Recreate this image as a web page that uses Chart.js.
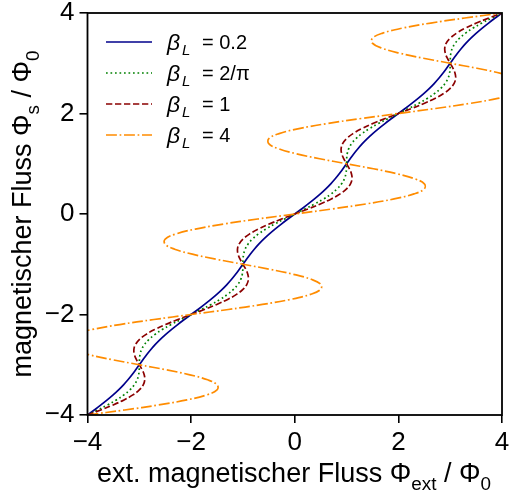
<!DOCTYPE html>
<html>
<head>
<meta charset="utf-8">
<script src="https://cdn.jsdelivr.net/npm/chart.js@4.4.1/dist/chart.umd.min.js"></script>
<style>
  html, body { margin: 0; padding: 0; background: #fff; }
  canvas { display: block; }
</style>
</head>
<body>
<canvas id="c" width="509" height="496"></canvas>
<script>
// Φs / Φ0 samples (vertical axis)
const fluxS = [-4,-3.9,-3.8,-3.7,-3.6,-3.5,-3.4,-3.3,-3.2,-3.1,-3,-2.9,-2.8,-2.7,-2.6,-2.5,-2.4,-2.3,-2.2,-2.1,
  -2,-1.9,-1.8,-1.7,-1.6,-1.5,-1.4,-1.3,-1.2,-1.1,-1,-0.9,-0.8,-0.7,-0.6,-0.5,-0.4,-0.3,-0.2,-0.1,
  0,0.1,0.2,0.3,0.4,0.5,0.6,0.7,0.8,0.9,1,1.1,1.2,1.3,1.4,1.5,1.6,1.7,1.8,1.9,
  2,2.1,2.2,2.3,2.4,2.5,2.6,2.7,2.8,2.9,3,3.1,3.2,3.3,3.4,3.5,3.6,3.7,3.8,3.9,4];

// Φext / Φ0 values for each β_L (horizontal axis)
const extBeta02 = [-4,-3.869,-3.741,-3.619,-3.505,-3.4,-3.305,-3.219,-3.141,-3.069,
  -3,-2.931,-2.859,-2.781,-2.695,-2.6,-2.495,-2.381,-2.259,-2.131,
  -2,-1.869,-1.741,-1.619,-1.505,-1.4,-1.305,-1.219,-1.141,-1.069,
  -1,-0.931,-0.859,-0.781,-0.695,-0.6,-0.495,-0.381,-0.259,-0.131,
  0,0.131,0.259,0.381,0.495,0.6,0.695,0.781,0.859,0.931,
  1,1.069,1.141,1.219,1.305,1.4,1.505,1.619,1.741,1.869,
  2,2.131,2.259,2.381,2.495,2.6,2.695,2.781,2.859,2.931,
  3,3.069,3.141,3.219,3.305,3.4,3.505,3.619,3.741,3.869,4];

const extBeta2pi = [-4,-3.802,-3.613,-3.442,-3.297,-3.182,-3.097,-3.042,-3.013,-3.002,
  -3,-2.998,-2.987,-2.958,-2.903,-2.818,-2.703,-2.558,-2.387,-2.198,
  -2,-1.802,-1.613,-1.442,-1.297,-1.182,-1.097,-1.042,-1.013,-1.002,
  -1,-0.998,-0.987,-0.958,-0.903,-0.818,-0.703,-0.558,-0.387,-0.198,
  0,0.198,0.387,0.558,0.703,0.818,0.903,0.958,0.987,0.998,
  1,1.002,1.013,1.042,1.097,1.182,1.297,1.442,1.613,1.802,
  2,2.198,2.387,2.558,2.703,2.818,2.903,2.958,2.987,2.998,
  3,3.002,3.013,3.042,3.097,3.182,3.297,3.442,3.613,3.802,4];

const extBeta1 = [-4,-3.745,-3.506,-3.295,-3.124,-3,-2.924,-2.895,-2.906,-2.945,
  -3,-3.055,-3.094,-3.105,-3.076,-3,-2.876,-2.705,-2.494,-2.255,
  -2,-1.745,-1.506,-1.295,-1.124,-1,-0.924,-0.895,-0.906,-0.945,
  -1,-1.055,-1.094,-1.105,-1.076,-1,-0.876,-0.705,-0.494,-0.255,
  0,0.255,0.494,0.705,0.876,1,1.076,1.105,1.094,1.055,
  1,0.945,0.906,0.895,0.924,1,1.124,1.295,1.506,1.745,
  2,2.255,2.494,2.705,2.876,3,3.076,3.105,3.094,3.055,
  3,2.945,2.906,2.895,2.924,3,3.124,3.295,3.506,3.745,4];

const extBeta4 = [-4,-3.282,-2.624,-2.082,-1.698,-1.5,-1.498,-1.682,-2.024,-2.482,
  -3,-3.518,-3.976,-4.318,-4.502,-4.5,-4.302,-3.918,-3.376,-2.718,
  -2,-1.282,-0.624,-0.082,0.302,0.5,0.502,0.318,-0.024,-0.482,
  -1,-1.518,-1.976,-2.318,-2.502,-2.5,-2.302,-1.918,-1.376,-0.718,
  0,0.718,1.376,1.918,2.302,2.5,2.502,2.318,1.976,1.518,
  1,0.482,0.024,-0.318,-0.502,-0.5,-0.302,0.082,0.624,1.282,
  2,2.718,3.376,3.918,4.302,4.5,4.502,4.318,3.976,3.518,
  3,2.482,2.024,1.682,1.498,1.5,1.698,2.082,2.624,3.282,4];

const betaLabels = ['0.2', '2/π', '1', '4'];
const tickValues = [-4, -2, 0, 2, 4];

// styles
const seriesX = [extBeta02, extBeta2pi, extBeta1, extBeta4];
const seriesColors = ['#00008b', '#008000', '#8b0000', '#ff8c00'];
const LW = 1.7;
const seriesDash = [[], [1.7, 2.8], [6.3, 2.7], [10.9, 2.7, 1.7, 2.7]];

const FONT = '"Liberation Sans", Arial, Helvetica, sans-serif';

function richText(ctx, parts, x, y, size, align) {
  const fonts = parts.map(p => (p.it ? 'italic ' : '') + (p.sub ? size * 0.7 : size) + 'px ' + FONT);
  let total = 0;
  const widths = parts.map((p, i) => { ctx.font = fonts[i]; const w = ctx.measureText(p.t).width; total += w; return w; });
  let cx = align === 'center' ? x - total / 2 : x;
  ctx.textBaseline = 'alphabetic';
  ctx.textAlign = 'left';
  parts.forEach((p, i) => {
    ctx.font = fonts[i];
    ctx.fillText(p.t, cx, p.sub ? y + size * 0.3 : y);
    cx += widths[i];
  });
}

const decorPlugin = {
  id: 'decor',
  afterDraw(chart) {
    const ctx = chart.ctx;
    const a = chart.chartArea;
    ctx.save();
    // frame
    ctx.strokeStyle = '#000';
    ctx.lineWidth = 1.8;
    ctx.setLineDash([]);
    ctx.strokeRect(a.left, a.top, a.right - a.left, a.bottom - a.top);
    ctx.fillStyle = '#000';
    // x title
    richText(ctx, [
      {t: 'ext. magnetischer Fluss Φ'}, {t: 'ext', sub: true}, {t: ' / Φ'}, {t: '0', sub: true}
    ], 294, 482, 27, 'center');
    // y title
    ctx.save();
    ctx.translate(31, (a.top + a.bottom) / 2);
    ctx.rotate(-Math.PI / 2);
    richText(ctx, [
      {t: 'magnetischer Fluss Φ'}, {t: 's', sub: true}, {t: ' / Φ'}, {t: '0', sub: true}
    ], 0, 0, 27, 'center');
    ctx.restore();
    // legend
    betaLabels.forEach((lab, i) => {
      const yy = a.top + 29 + 31 * i;
      ctx.save();
      ctx.strokeStyle = seriesColors[i];
      ctx.lineWidth = LW;
      ctx.setLineDash(seriesDash[i]);
      ctx.beginPath();
      ctx.moveTo(106, yy);
      ctx.lineTo(152, yy);
      ctx.stroke();
      ctx.restore();
      ctx.fillStyle = '#000';
      ctx.textAlign = 'left';
      ctx.textBaseline = 'alphabetic';
      ctx.font = 'italic 23px ' + FONT;
      ctx.fillText('β', 167, yy + 7.5);
      ctx.font = 'italic 15px ' + FONT;
      ctx.fillText('L', 182, yy + 12.5);
      ctx.font = '20px ' + FONT;
      ctx.fillText('= ' + lab, 202, yy + 7);
    });
    ctx.restore();
  }
};

const datasets = seriesX.map((xs, i) => ({
  label: 'β_L = ' + betaLabels[i],
  data: xs.map((x, k) => ({x: x, y: fluxS[k]})),
  showLine: true,
  borderColor: seriesColors[i],
  borderWidth: LW,
  borderDash: seriesDash[i],
  pointRadius: 0,
  tension: 0.4,
  fill: false,
  order: 3 - i
}));

const fmt = v => (v < 0 ? '\u2212' + Math.abs(v) : String(v));
const noPad = s => { s.paddingTop = 0; s.paddingBottom = 0; s.paddingLeft = 0; s.paddingRight = 0; };

new Chart(document.getElementById('c'), {
  type: 'scatter',
  data: { datasets },
  options: {
    responsive: false,
    animation: false,
    layout: { autoPadding: false, padding: { left: 0, right: 7, top: 13, bottom: 0 } },
    plugins: { legend: { display: false }, tooltip: { enabled: false } },
    scales: {
      x: {
        type: 'linear', min: -4, max: 4,
        afterBuildTicks: s => { s.ticks = tickValues.map(v => ({value: v})); },
        ticks: { font: { family: FONT, size: 26 }, color: '#000', padding: 4, maxRotation: 0, callback: fmt },
        grid: { display: true, drawOnChartArea: false, drawTicks: true, tickLength: 8, color: '#000', lineWidth: 1.6 },
        border: { display: false },
        afterFit: s => { s.height = 81; noPad(s); }
      },
      y: {
        type: 'linear', min: -4, max: 4,
        afterBuildTicks: s => { s.ticks = tickValues.map(v => ({value: v})); },
        ticks: { font: { family: FONT, size: 26 }, color: '#000', padding: 5, callback: fmt },
        grid: { display: true, drawOnChartArea: false, drawTicks: true, tickLength: 8, color: '#000', lineWidth: 1.6 },
        border: { display: false },
        afterFit: s => { s.width = 87.5; noPad(s); }
      }
    }
  },
  plugins: [decorPlugin]
});
</script>
</body>
</html>
